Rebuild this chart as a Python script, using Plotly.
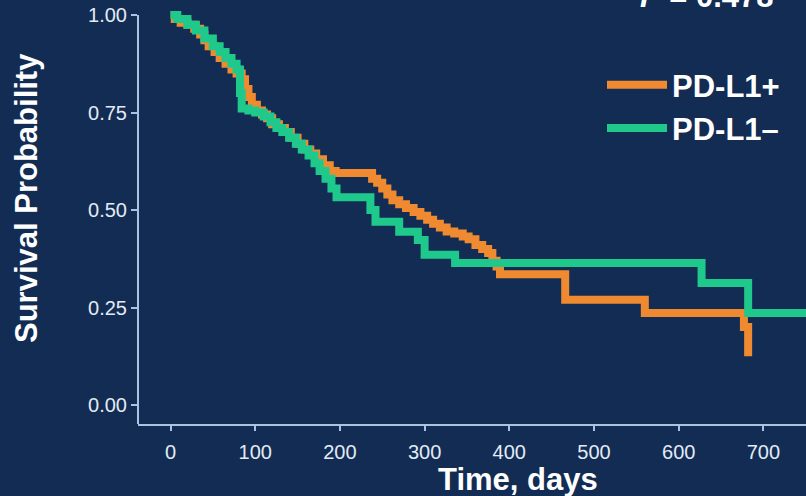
import plotly.graph_objects as go

# PD-L1+ (orange) Kaplan-Meier step points: time (days), survival
pos_t = [0, 5, 12, 20, 28, 35, 40, 45, 52, 58, 65, 72, 78, 84, 88, 92, 96, 102, 108, 114,
         120, 128, 135, 142, 150, 158, 165, 172, 180, 188, 195, 238, 244, 250, 256, 262,
         270, 278, 287, 295, 303, 310, 318, 326, 335, 345, 352, 360, 368, 375, 380, 385,
         389, 466, 560, 677, 682]
pos_s = [1.0, 0.99, 0.98, 0.975, 0.965, 0.95, 0.935, 0.92, 0.905, 0.89, 0.875, 0.86, 0.85,
         0.835, 0.81, 0.79, 0.77, 0.755, 0.745, 0.735, 0.72, 0.71, 0.70, 0.685, 0.67, 0.655,
         0.645, 0.63, 0.615, 0.60, 0.595, 0.58, 0.57, 0.555, 0.54, 0.525, 0.515, 0.505, 0.495,
         0.485, 0.475, 0.465, 0.455, 0.445, 0.44, 0.432, 0.425, 0.41, 0.40, 0.39, 0.37, 0.355,
         0.335, 0.27, 0.236, 0.20, 0.125]

# PD-L1- (green)
neg_t = [0, 8, 20, 30, 40, 50, 58, 65, 72, 78, 82, 84, 92, 100, 110, 118, 125, 132, 140,
         148, 155, 163, 170, 176, 183, 190, 196, 236, 242, 270, 292, 300, 336, 627, 682, 760]
neg_s = [1.0, 0.99, 0.975, 0.96, 0.94, 0.92, 0.905, 0.89, 0.875, 0.86, 0.80, 0.76, 0.755,
         0.75, 0.74, 0.725, 0.71, 0.70, 0.685, 0.67, 0.655, 0.64, 0.62, 0.60, 0.58, 0.555,
         0.533, 0.50, 0.47, 0.444, 0.423, 0.385, 0.364, 0.313, 0.236, 0.236]

x_ticks = [0, 100, 200, 300, 400, 500, 600, 700]
y_ticks = [0.0, 0.25, 0.5, 0.75, 1.0]
y_tick_labels = ["0.00", "0.25", "0.50", "0.75", "1.00"]

BG = "#122c54"
ORANGE = "#f08a30"
GREEN = "#1fc98c"
AXIS = "#a9c4e0"
TICKTXT = "#e3ebf4"
FONT = "Liberation Sans, Arial, sans-serif"

W, H = 806, 496
L, R, T, B = 138, 0, 10, 72
pw, ph = W - L - R, H - T - B


def px(xp):
    return (xp - L) / pw


def py(yp):
    return (H - B - yp) / ph


fig = go.Figure()
fig.add_trace(go.Scatter(x=pos_t, y=pos_s, mode="lines", name="PD-L1+",
                         line=dict(color=ORANGE, width=8, shape="hv")))
fig.add_trace(go.Scatter(x=neg_t, y=neg_s, mode="lines", name="PD-L1–",
                         line=dict(color=GREEN, width=8, shape="hv")))

y0, y1 = -0.0487, 1.0128
fig.update_layout(
    width=W, height=H,
    margin=dict(l=L, r=R, t=T, b=B, pad=0),
    paper_bgcolor=BG, plot_bgcolor=BG,
    font=dict(family=FONT, color=TICKTXT),
    showlegend=True,
    legend=dict(x=px(602), y=py(58), xanchor="left", yanchor="top",
                bgcolor="rgba(0,0,0,0)", itemwidth=60,
                font=dict(size=31, color="white", family=FONT, weight="bold"),
                tracegroupgap=0),
    xaxis=dict(range=[-38.4, 750.3], tickmode="array", tickvals=x_ticks,
               showgrid=False, zeroline=False, showline=True, linecolor=AXIS, linewidth=2,
               ticks="outside", ticklen=5, tickwidth=2, tickcolor=AXIS,
               ticklabelstandoff=4,
               tickfont=dict(size=20, color=TICKTXT, family=FONT)),
    yaxis=dict(range=[y0, y1], tickmode="array", tickvals=y_ticks, ticktext=y_tick_labels,
               showgrid=False, zeroline=False, showline=False,
               ticks="outside", ticklen=6, tickwidth=2, tickcolor=AXIS,
               tickfont=dict(size=20, color=TICKTXT, family=FONT)),
    shapes=[dict(type="line", xref="paper", yref="y", x0=0, x1=0, y0=y0, y1=1.0,
                 line=dict(color=AXIS, width=2))],
    annotations=[
        dict(text="Time, days", xref="paper", yref="paper", x=px(518), y=py(499),
             xanchor="center", yanchor="bottom", showarrow=False,
             font=dict(size=31, color="white", family=FONT, weight="bold")),
        dict(text="Survival Probability", xref="paper", yref="paper", x=px(26), y=py(198),
             xanchor="center", yanchor="middle", textangle=-90, showarrow=False,
             font=dict(size=31, color="white", family=FONT, weight="bold")),
        dict(text="<i>P</i> = 0.478", xref="paper", yref="paper", x=px(776), y=py(16),
             xanchor="right", yanchor="bottom", showarrow=False,
             font=dict(size=31, color="white", family=FONT, weight="bold")),
    ],
)

fig.write_html("out.html")
